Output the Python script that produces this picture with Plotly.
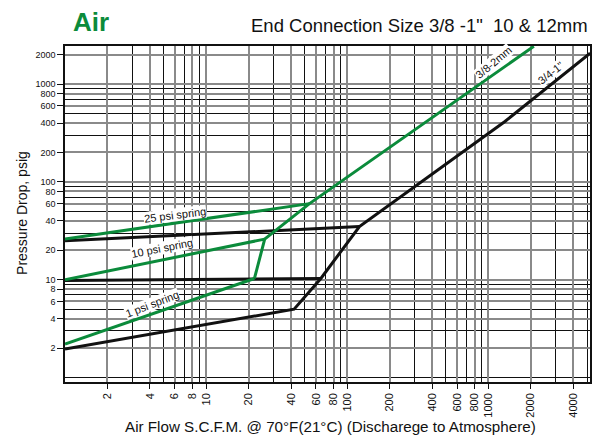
import math
import plotly.graph_objects as go

# ---------------- data ----------------
# Green curves: 3/8-2mm connection
g_spring25_flow = [1, 54]
g_spring25_dp = [26, 60]
g_spring10_flow = [1, 26]
g_spring10_dp = [10, 26]
g_spring1_flow = [1, 22]
g_spring1_dp = [2.2, 10.3]
g_main_flow = [22, 26, 54, 2100]
g_main_dp = [10.3, 26, 60, 2440]

# Black curves: 3/4-1" connection
k_spring25_flow = [1, 122]
k_spring25_dp = [25, 35]
k_spring10_flow = [1, 65]
k_spring10_dp = [9.8, 10.3]
k_main_flow = [1, 42, 65, 122, 1310, 5260]
k_main_dp = [1.95, 5, 10.3, 35, 415, 2070]

x_ticks = [2, 4, 6, 8, 10, 20, 40, 60, 80, 100, 200, 400, 600, 800, 1000, 2000, 4000]
y_ticks = [2, 4, 6, 8, 10, 20, 40, 60, 80, 100, 200, 400, 600, 800, 1000, 2000]

GREEN = "#0b8b3b"
BLACK = "#111111"
FONT = "Liberation Sans, Arial, sans-serif"

fig = go.Figure()

def add(x, y, color):
    fig.add_trace(go.Scatter(x=x, y=y, mode="lines",
                             line=dict(color=color, width=3),
                             showlegend=False, hoverinfo="skip"))

add(k_spring25_flow, k_spring25_dp, BLACK)
add(k_spring10_flow, k_spring10_dp, BLACK)
add(k_main_flow, k_main_dp, BLACK)
add(g_spring25_flow, g_spring25_dp, GREEN)
add(g_spring10_flow, g_spring10_dp, GREEN)
add(g_spring1_flow, g_spring1_dp, GREEN)
add(g_main_flow, g_main_dp, GREEN)

def on_line(xs, ys, xv):
    lx0, lx1 = math.log10(xs[0]), math.log10(xs[1])
    ly0, ly1 = math.log10(ys[0]), math.log10(ys[1])
    t = (math.log10(xv) - lx0) / (lx1 - lx0)
    return ly0 + t * (ly1 - ly0)

def label(text, xv, yl, angle, xs=0, ys=7):
    fig.add_annotation(x=math.log10(xv), y=yl, xref="x", yref="y",
                       text=text, showarrow=False, textangle=angle,
                       font=dict(family=FONT, size=11, color="#111"),
                       bgcolor="white", borderpad=0, xshift=xs, yshift=ys)

label("25 psi spring", 6.0, on_line(g_spring25_flow, g_spring25_dp, 6.0), -7, ys=8)
label("10 psi spring", 4.9, on_line(g_spring10_flow, g_spring10_dp, 4.9), -11, ys=12)
label("1 psi spring", 4.2, on_line(g_spring1_flow, g_spring1_dp, 4.2), -21, xs=-1, ys=10)
label("3/8-2mm", 1150, on_line([54, 2100], [60, 2440], 1150), -40, xs=-3, ys=10)
label("3/4-1\"", 2890, on_line([1310, 5260], [415, 2070], 2890), -38, xs=-3, ys=10)

# titles
fig.add_annotation(x=0.012, y=1.071, xref="paper", yref="paper", text="<b>Air</b>",
                   showarrow=False, xanchor="left", yanchor="middle",
                   font=dict(family=FONT, size=26, color=GREEN))
fig.add_annotation(x=1.0, y=1.061, xref="paper", yref="paper",
                   text="End Connection Size 3/8 -1\"  10 &amp; 12mm",
                   showarrow=False, xanchor="right", yanchor="middle",
                   font=dict(family=FONT, size=18.5, color="#111"))
fig.add_annotation(x=-0.082, y=0.503, xref="paper", yref="paper",
                   text="Pressure Drop, psig", textangle=-90, showarrow=False,
                   xanchor="center", yanchor="middle",
                   font=dict(family=FONT, size=14, color="#111"))
fig.add_annotation(x=0.505, y=-0.131, xref="paper", yref="paper",
                   text="Air Flow S.C.F.M. @ 70°F(21°C) (Discharege to Atmosphere)",
                   showarrow=False, xanchor="center", yanchor="middle",
                   font=dict(family=FONT, size=15.2, color="#111"))

fig.update_xaxes(type="log", range=[0, 3.72], tickmode="array", tickvals=x_ticks,
                 ticktext=[str(v) for v in x_ticks], tickangle=-90,
                 ticks="outside", ticklen=5, tickcolor="#111",
                 tickfont=dict(family=FONT, size=11, color="#111"),
                 showgrid=True, gridcolor="#8a8a8a", gridwidth=1.5,
                 minor=dict(dtick="D1", showgrid=True, gridcolor="#111", gridwidth=1, ticks=""),
                 showline=True, linecolor="#111", linewidth=1.5, mirror=True,
                 zeroline=False, automargin=False)
fig.update_yaxes(type="log", range=[-0.046, 3.39], tickmode="array", tickvals=y_ticks,
                 ticktext=[str(v) for v in y_ticks],
                 ticks="outside", ticklen=6, tickcolor="#111",
                 tickfont=dict(family=FONT, size=9, color="#111"),
                 showgrid=True, gridcolor="#8a8a8a", gridwidth=1.5,
                 minor=dict(dtick="D1", showgrid=True, gridcolor="#111", gridwidth=1, ticks=""),
                 showline=True, linecolor="#111", linewidth=1.5, mirror=True,
                 zeroline=False, automargin=False)

fig.update_layout(width=592, height=435, margin=dict(l=65, r=2, t=46, b=53),
                  paper_bgcolor="white", plot_bgcolor="white", showlegend=False)

# hide the mode bar and remove the browser's default 8px page margin
fig.write_html("out.html", config={"displayModeBar": False},
               post_script="document.body.style.margin='0';")
